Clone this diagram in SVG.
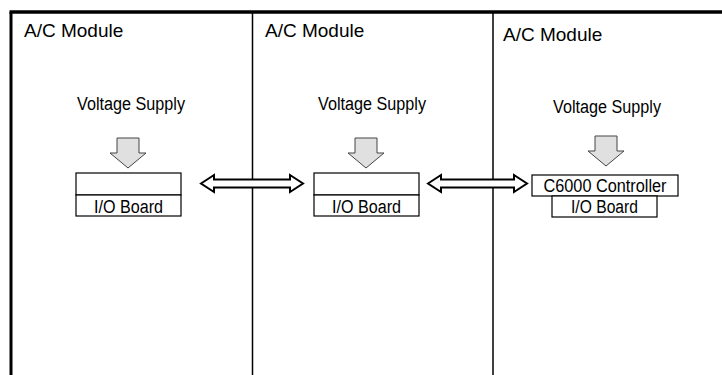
<svg xmlns="http://www.w3.org/2000/svg" xmlns:xlink="http://www.w3.org/1999/xlink" width="722" height="375" viewBox="0 0 722 375">
<style>
text{font-family:"Liberation Sans",Arial,sans-serif;fill:#000}
.title{font-size:19px}
.lbl{font-size:18px;text-anchor:middle}
.box{fill:#fff;stroke:#000;stroke-width:1.2}
.frame{stroke:#000;fill:none}
.down{fill:#e0e0e0;stroke:#444;stroke-width:1}
.dbl{fill:#fff;stroke:#000;stroke-width:2;stroke-linejoin:miter}
</style>
<defs>
<path id="downArrow" class="down" d="M-11,-30 H11 V-15 H18 L0,0 L-18,-15 H-11 Z"/>
</defs>
<rect width="722" height="375" fill="#fff"/>
<g id="frame">
<line class="frame" x1="9.5" y1="12" x2="722" y2="12" stroke-width="3.5"/>
<line class="frame" x1="11" y1="12" x2="11" y2="375" stroke-width="3"/>
<line class="frame" x1="252.5" y1="12" x2="252.5" y2="375" stroke-width="1.5"/>
<line class="frame" x1="493" y1="12" x2="493" y2="375" stroke-width="1.5"/>
</g>
<g id="module1">
<text class="title" x="24" y="37">A/C Module</text>
<text class="lbl" x="131" y="110" textLength="108" lengthAdjust="spacingAndGlyphs">Voltage Supply</text>
<use xlink:href="#downArrow" x="128" y="168"/>
<rect class="box" x="76" y="173" width="105" height="22"/>
<rect class="box" x="76" y="195" width="105" height="21"/>
<text class="lbl" x="128.5" y="213" textLength="69" lengthAdjust="spacingAndGlyphs">I/O Board</text>
</g>
<g id="module2">
<text class="title" x="265" y="37">A/C Module</text>
<text class="lbl" x="372" y="110" textLength="108" lengthAdjust="spacingAndGlyphs">Voltage Supply</text>
<use xlink:href="#downArrow" x="366" y="168"/>
<rect class="box" x="314" y="173" width="105" height="22"/>
<rect class="box" x="314" y="195" width="105" height="21"/>
<text class="lbl" x="366.5" y="213" textLength="69" lengthAdjust="spacingAndGlyphs">I/O Board</text>
</g>
<g id="module3">
<text class="title" x="503" y="41">A/C Module</text>
<text class="lbl" x="607" y="113" textLength="108" lengthAdjust="spacingAndGlyphs">Voltage Supply</text>
<use xlink:href="#downArrow" x="606" y="166"/>
<rect class="box" x="532" y="175" width="146" height="21"/>
<text class="lbl" x="605" y="192" textLength="123" lengthAdjust="spacingAndGlyphs">C6000 Controller</text>
<rect class="box" x="552" y="196" width="105" height="21"/>
<text class="lbl" x="604.5" y="213" textLength="67" lengthAdjust="spacingAndGlyphs">I/O Board</text>
</g>
<g id="connectors">
<path class="dbl" d="M201,183.5 L214,175 V179.5 H290 V175 L303,183.5 L290,192 V187.5 H214 V192 Z"/>
<path class="dbl" d="M428,183.5 L441,175 V179.5 H514 V175 L527,183.5 L514,192 V187.5 H441 V192 Z"/>
</g>
</svg>
